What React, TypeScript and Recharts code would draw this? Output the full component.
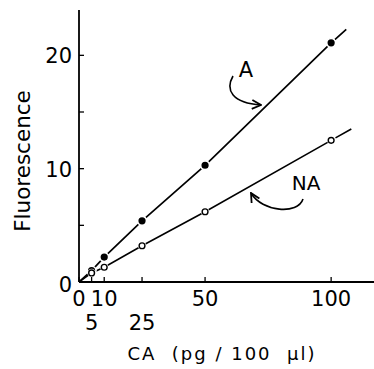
import { ComposedChart, Line, XAxis, YAxis } from 'recharts';

// catecholamine standards, pg / 100 µl
const conc = [5, 10, 25, 50, 100];
const fluorA = [1.0, 2.2, 5.4, 10.3, 21.1];
const fluorNA = [0.8, 1.3, 3.2, 6.2, 12.5];

// dashed run-out of each line past the last standard
const extConcA = [100, 106];
const extFluorA = [21.1, 22.3];
const extConcNA = [100, 108];
const extFluorNA = [12.5, 13.5];

const xTicks = [0, 5, 10, 25, 50, 100];
const xLowerRow = [5, 25];
const yTicks = [0, 5, 10, 15, 20];
const yLabelled = [0, 10, 20];

const FONT = '"DejaVu Sans", Arial, sans-serif';

const withOrigin = (xs: number[], ys: number[]) =>
    [{ x: 0, y: 0 }, ...xs.map((x, i) => ({ x, y: ys[i] }))];
const pairs = (xs: number[], ys: number[]) => xs.map((x, i) => ({ x, y: ys[i] }));

const lineA = withOrigin(conc, fluorA);
const lineNA = withOrigin(conc, fluorNA);
const runA = pairs(extConcA, extFluorA);
const runNA = pairs(extConcNA, extFluorNA);

const FilledDot = (p: any) => {
    if (p.index === 0) return <g key={p.index} />;
    return <circle key={p.index} cx={p.cx} cy={p.cy} r={4.4} fill="#000" stroke="#fff" strokeWidth={1.6} />;
};
const OpenDot = (p: any) => {
    if (p.index === 0) return <g key={p.index} />;
    return (
        <g key={p.index}>
            <circle cx={p.cx} cy={p.cy} r={4.2} fill="#fff" />
            <circle cx={p.cx} cy={p.cy} r={2.9} fill="#fff" stroke="#000" strokeWidth={1.4} />
        </g>
    );
};

const XTick = ({ x, y, payload }: any) => {
    const lower = xLowerRow.includes(payload.value);
    return (
        <g>
            <line x1={x} x2={x} y1={y} y2={y - 5} stroke="#000" strokeWidth={1.3} />
            <text x={x} y={y + (lower ? 48 : 24)} textAnchor="middle" fontFamily={FONT} fontSize={21} fill="#000">
                {payload.value}
            </text>
        </g>
    );
};

const YTick = ({ x, y, payload }: any) => (
    <g>
        <line x1={x} x2={x + 5} y1={y} y2={y} stroke="#000" strokeWidth={1.3} />
        {yLabelled.includes(payload.value) && (
            <text x={x - 7} y={y + (payload.value === 0 ? 10 : 8)} textAnchor="end" fontFamily={FONT} fontSize={21} fill="#000">
                {payload.value}
            </text>
        )}
    </g>
);

export default function App() {
    return (
        <div style={{ position: 'absolute', left: 0, top: 0, width: 374, height: 369, background: '#fff' }}>
            <ComposedChart width={374} height={369} margin={{ top: 10, right: 0, bottom: 0, left: 0 }}>
                <XAxis
                    type="number"
                    dataKey="x"
                    domain={[0, 117]}
                    ticks={xTicks}
                    interval={0}
                    height={87}
                    tickSize={0}
                    tickMargin={0}
                    tick={<XTick />}
                    axisLine={{ stroke: '#000', strokeWidth: 1.8 }}
                    allowDataOverflow
                />
                <YAxis
                    type="number"
                    dataKey="y"
                    domain={[0, 24]}
                    ticks={yTicks}
                    interval={0}
                    width={79}
                    tickSize={0}
                    tickMargin={0}
                    tick={<YTick />}
                    axisLine={{ stroke: '#000', strokeWidth: 1.8 }}
                    allowDataOverflow
                />
                <Line data={lineA} dataKey="y" stroke="#000" strokeWidth={1.7} dot={FilledDot} isAnimationActive={false} />
                <Line data={lineNA} dataKey="y" stroke="#000" strokeWidth={1.6} dot={OpenDot} isAnimationActive={false} />
                <Line data={runA} dataKey="y" stroke="#000" strokeWidth={1.7} strokeDasharray="0 5 40" dot={false} isAnimationActive={false} />
                <Line data={runNA} dataKey="y" stroke="#000" strokeWidth={1.6} strokeDasharray="0 5 40" dot={false} isAnimationActive={false} />
            </ComposedChart>
            <svg width={374} height={369} style={{ position: 'absolute', left: 0, top: 0, pointerEvents: 'none' }}>
                <defs>
                    <marker id="head" viewBox="0 0 10 10" refX="9" refY="5" markerWidth="7" markerHeight="7" orient="auto">
                        <path d="M 1 1 L 9 5 L 1 9" fill="none" stroke="#000" strokeWidth={1.6} />
                    </marker>
                </defs>
                <text x={22} y={161} transform="rotate(-90 22 161)" dy={8} textAnchor="middle" fontFamily={FONT} fontSize={21.5} fill="#000">
                    Fluorescence
                </text>
                <text x={222} y={360} textAnchor="middle" fontFamily={FONT} fontSize={18} letterSpacing={2} fill="#000" style={{ whiteSpace: 'pre' }}>
                    {'CA  (pg / 100  µl)'}
                </text>
                <text x={246} y={77} textAnchor="middle" fontFamily={FONT} fontSize={21} fill="#000">A</text>
                <path d="M 233 76 C 225 90, 232 103, 261 105" fill="none" stroke="#000" strokeWidth={1.6} markerEnd="url(#head)" />
                <text x={306} y={190} textAnchor="middle" fontFamily={FONT} fontSize={20} fill="#000">NA</text>
                <path d="M 303 199 C 298 215, 262 212, 251 193" fill="none" stroke="#000" strokeWidth={1.6} markerEnd="url(#head)" />
            </svg>
        </div>
    );
}
